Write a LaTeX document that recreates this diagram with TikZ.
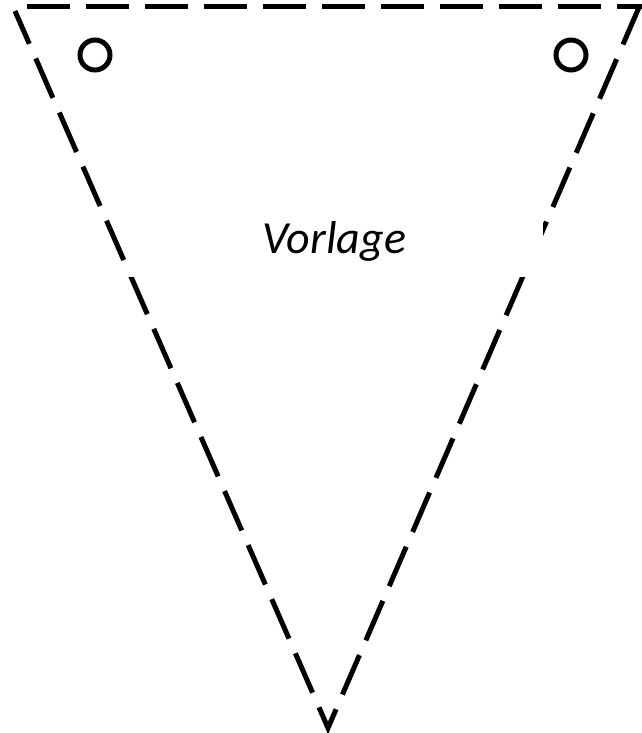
\documentclass[tikz,border=0pt]{standalone}
\usepackage{fontspec}
\setmainfont{Carlito}
\begin{document}
\begin{tikzpicture}[x=1pt,y=-1pt,
  cut/.style={line width=5pt, dash pattern=on 43pt off 16pt},
  hole/.style={circle, draw, line width=5pt, minimum size=30pt, inner sep=0pt},
  label/.style={fill=white, minimum width=417pt, minimum height=72pt, inner sep=0pt, font=\itshape\fontsize{46}{50}\selectfont}]
\useasboundingbox (0,0) rectangle (642,733);
\coordinate (tl) at (27,7);
\coordinate (tre) at (642,7);
\coordinate (tr) at (640,5);
\coordinate (bt) at (328,728);
\coordinate (ls) at (15,11);
\draw[cut] (tl) -- (tre);
\draw[cut, line join=miter] (tr) -- (bt) -- (ls);
\node[hole] (h1) at (95,55) {};
\node[hole] (h2) at (571,55) {};
\node[label] (t) at (334.5,241) {Vorlage};
\end{tikzpicture}
\end{document}
